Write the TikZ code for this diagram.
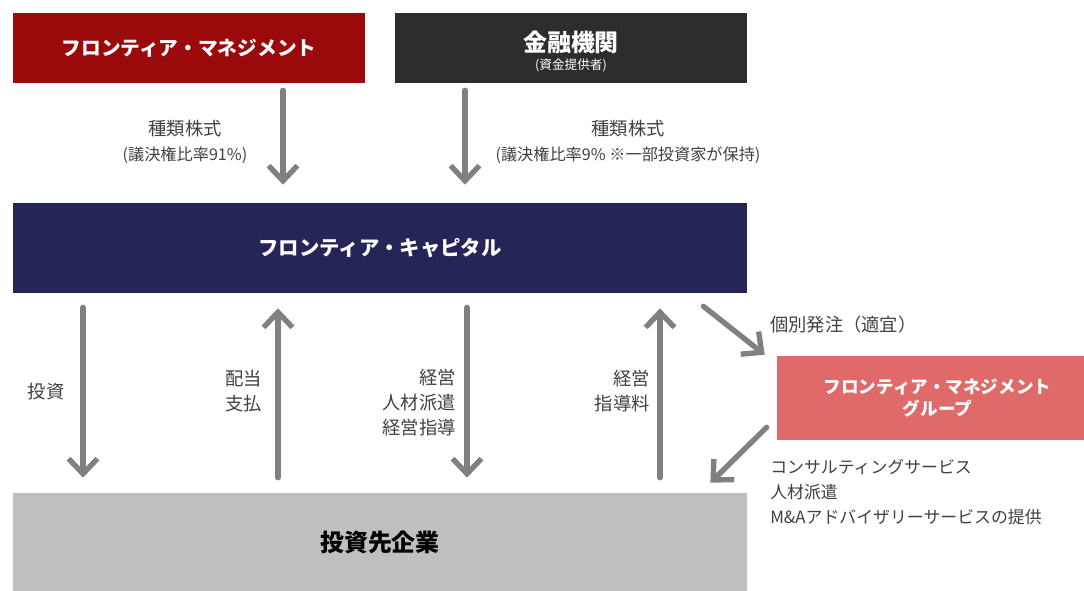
\documentclass[tikz,border=0pt]{standalone}
\usepackage{fontspec}
\setmainfont{Noto Sans CJK JP}
\usetikzlibrary{arrows.meta,calc}

\definecolor{fmred}{HTML}{9B0A0A}
\definecolor{bankgray}{HTML}{2D2D2D}
\definecolor{fcnavy}{HTML}{232656}
\definecolor{fmgpink}{HTML}{E06A6A}
\definecolor{invgray}{HTML}{BFBFBF}
\definecolor{flowgray}{HTML}{808080}
\definecolor{labelgray}{HTML}{404040}

\begin{document}
\begin{tikzpicture}[x=0.025cm,y=-0.025cm,
    box/.style={inner sep=0pt, align=center, font=\bfseries},
    flow/.style={draw=flowgray, line width=3.8pt, line cap=round,
        -{Straight Barb[length=3.8mm,width=7.2mm,line width=3.8pt]}},
    lbl/.style={text=labelgray, font=\fontsize{13}{17.8}\selectfont, inner sep=0pt}]
    \useasboundingbox (0,0) rectangle (1084,591);

% upper boxes
    \node[box, fill=fmred, text=white, minimum width=8.8cm, minimum height=1.75cm,
        font=\fontsize{14}{16}\selectfont\bfseries] (fm) at (189,48) {フロンティア・マネジメント};
    \node[box, fill=bankgray, text=white, minimum width=8.8cm, minimum height=1.75cm] (bank) at (571,48)
        {{\fontsize{17}{19}\selectfont\rule{0pt}{20pt}金融機関}\\[1pt]{\fontsize{9}{11}\selectfont\mdseries (資金提供者)}};

% middle boxes
    \node[box, fill=fcnavy, text=white, minimum width=18.35cm, minimum height=2.25cm,
        font=\fontsize{14.5}{16}\selectfont\bfseries] (fc) at (380,248) {フロンティア・キャピタル};
    \node[box, fill=fmgpink, text=white, minimum width=7.675cm, minimum height=2.1cm,
        font=\fontsize{12.5}{16}\selectfont\bfseries] (fmg) at (930.5,398) {\hspace*{10pt}フロンティア・マネジメント\\\hspace*{10pt}グループ};

% bottom box
    \node[box, fill=invgray, text=black, minimum width=18.35cm, minimum height=2.45cm,
        font=\fontsize{17}{19}\selectfont\bfseries] (inv) at (380,542) {投資先企業};

% shares
    \draw[flow] ($(fm.south)+(94,7)$) -- ($(fc.north)+(-97,-18)$);
    \draw[flow] ($(bank.south)+(-106,7)$) -- ($(fc.north)+(85,-18)$);
    \node[lbl, align=center] (share1) at (185,142) {種類株式\\{\fontsize{11.5}{14}\selectfont (議決権比率91\%)}};
    \node[lbl, align=center] (share2) at (628,142) {種類株式\\{\fontsize{11.5}{14}\selectfont (議決権比率9\% ※一部投資家が保持)}};

% flows between fund and companies
    \draw[flow] ($(fc.south)+(-297,14)$) -- ($(inv.north)+(-297,-15)$);
    \draw[flow] ($(inv.north)+(-102,-15)$) -- ($(fc.south)+(-102,15)$);
    \draw[flow] ($(fc.south)+(87,14)$) -- ($(inv.north)+(87,-15)$);
    \draw[flow] ($(inv.north)+(280,-15)$) -- ($(fc.south)+(280,15)$);
    \node[lbl] (invest) at (46,392) {投資};
    \node[lbl, align=right, anchor=east] (dividend) at (262,391) {配当\\支払};
    \node[lbl, align=right, anchor=east] (support) at (456,403) {経営\\人材派遣\\経営指導};
    \node[lbl, align=right, anchor=east] (fee) at (650,391) {経営\\指導料};

% group services
    \draw[flow] ($(fc.south east)+(-44,13)$) -- ($(fmg.north west)+(-12,-1)$);
    \draw[flow] ($(fmg.south west)+(-10,-13)$) -- ($(inv.north east)+(-37,-10)$);
    \node[lbl, anchor=west] (order) at (770,325) {個別発注（適宜）};
    \node[lbl, align=left, anchor=north west, font=\fontsize{12}{17.8}\selectfont] (services) at (770,459)
        {コンサルティングサービス\\人材派遣\\M\&Aアドバイザリーサービスの提供};
\end{tikzpicture}
\end{document}
